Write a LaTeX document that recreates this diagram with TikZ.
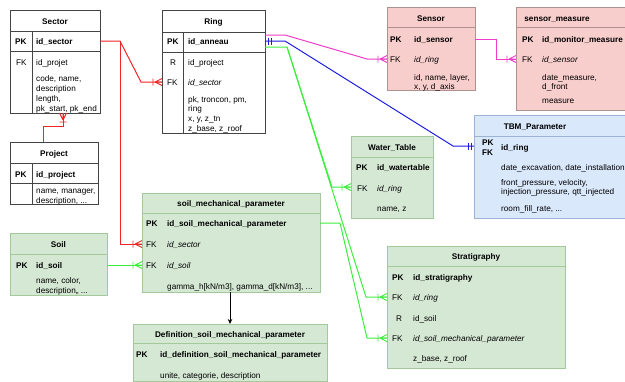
\documentclass[tikz,border=0pt]{standalone}
\usepackage{fontspec}
\setmainfont{Liberation Sans}
\usetikzlibrary{arrows.meta}
\definecolor{cRed}{HTML}{EE2626}
\definecolor{cMag}{HTML}{F03CC8}
\definecolor{cBlue}{HTML}{1C1CE0}
\definecolor{cGreen}{HTML}{3CEE3C}
\definecolor{cWB}{HTML}{444444}
\definecolor{cPF}{HTML}{F8CECC}
\definecolor{cPB}{HTML}{AE9290}
\definecolor{cGF}{HTML}{D5E8D4}
\definecolor{cGB}{HTML}{A3C89A}
\definecolor{cBF}{HTML}{DAE8FC}
\definecolor{cBB}{HTML}{9DB3D6}
\newcounter{tn}
\newcommand\tl[4][]{\stepcounter{tn}\node[txt,#1] (t\arabic{tn}) at (#2,#3+3) {#4};}
\newcommand\ttl[3]{\stepcounter{tn}\node[txt,anchor=base,font=\fs\bfseries] (t\arabic{tn}) at (#1,#2+3) {#3};}
\newcommand\ebox[6]{\node[#6, minimum width={(#4)-(#2)}, minimum height={(#5)-(#3)}] (#1) at ({((#2)+(#4))/2},{((#3)+(#5))/2}) {};}
\newcommand\fs{\fontsize{8.2}{9.5}\selectfont}
\tikzset{
  x=1pt, y=-1pt,
  txt/.style={anchor=base west, inner sep=0pt, font=\fs},
  bx/.style={inner sep=0pt, outer sep=0pt, line width=0.8pt},
  wbox/.style={bx, draw=cWB, fill=white},
  pbox/.style={bx, draw=cPB, fill=cPF},
  gbox/.style={bx, draw=cGB, fill=cGF},
  bbox/.style={bx, draw=cBB, fill=cBF},
  conn/.style={line width=1pt, line join=miter},
  crow/.pic={\draw[line width=0.9pt] (-7,0) -- (0,3.5) (-7,0) -- (0,-3.5) (-7,0) -- (0,0) (-9,-3.5) -- (-9,3.5);},
  dbar/.pic={\draw[line width=0.9pt] (-3,-3.5) -- (-3,3.5) (-6,-3.5) -- (-6,3.5);},
}
\begin{document}
\begin{tikzpicture}
\useasboundingbox (0,0) rectangle (625,381);
\fill[white] (0,0) rectangle (625,381);

% ---------- boxes ----------
\ebox{sector}{10}{10}{100}{113}{wbox}
\ebox{project}{10}{142}{98}{204}{wbox}
\ebox{ring}{162}{10}{265}{133}{wbox}
\ebox{sensor}{387}{7}{475}{90}{pbox}
\ebox{smeas}{516}{7}{640}{110}{pbox}
\ebox{tbm}{474}{115}{640}{218}{bbox}
\ebox{water}{351}{136}{433}{218}{gbox}
\ebox{soil}{10}{233}{107}{295}{gbox}
\ebox{smp}{142}{193}{320}{292}{gbox}
\ebox{def}{133}{324}{327}{381}{gbox}
\ebox{strat}{387}{246}{565}{368}{gbox}

% internal lines (white boxes)
\draw[cWB, line width=0.8pt] (sector.west |- 0,31) -- (sector.east |- 0,31)
  (sector.west |- 0,51) -- (sector.east |- 0,51) (32,31) -- (32,113);
\draw[cWB, line width=0.8pt] (project.west |- 0,163) -- (project.east |- 0,163)
  (project.west |- 0,183) -- (project.east |- 0,183) (32,163) -- (32,204);
\draw[cWB, line width=0.8pt] (ring.west |- 0,32) -- (ring.east |- 0,32)
  (ring.west |- 0,52) -- (ring.east |- 0,52) (183,32) -- (183,133);
% header lines (coloured boxes)
\draw[cPB, line width=0.6pt] (sensor.west |- 0,27) -- (sensor.east |- 0,27);
\draw[cPB, line width=0.6pt] (smeas.west |- 0,27) -- (smeas.east |- 0,27);
\draw[cBB, line width=0.6pt] (tbm.west |- 0,136) -- (tbm.east |- 0,136);
\draw[cGB, line width=0.6pt] (water.west |- 0,157) -- (water.east |- 0,157);
\draw[cGB, line width=0.6pt] (soil.west |- 0,254) -- (soil.east |- 0,254);
\draw[cGB, line width=0.6pt] (smp.west |- 0,213) -- (smp.east |- 0,213);
\draw[cGB, line width=0.6pt] (def.west |- 0,343) -- (def.east |- 0,343);
\draw[cGB, line width=0.6pt] (strat.west |- 0,266) -- (strat.east |- 0,266);

% ---------- texts ----------
% Sector
\ttl{55}{21}{Sector}
\tl[font=\fs\bfseries]{15}{41}{PK}
\tl[font=\fs\bfseries]{36}{41}{id\_sector}
\tl{16}{62}{FK}
\tl{36}{62}{id\_projet}
\tl{36}{78}{code, name,}
\tl{36}{88}{description}
\tl{36}{98}{length,}
\tl{36}{108}{pk\_start, pk\_end}
% Project
\ttl{54}{153}{Project}
\tl[font=\fs\bfseries]{15}{174}{PK}
\tl[font=\fs\bfseries]{36}{174}{id\_project}
\tl{36}{190}{name, manager,}
\tl{36}{200}{description, ...}
% Ring
\ttl{213.5}{21}{Ring}
\tl[font=\fs\bfseries]{167}{41}{PK}
\tl[font=\fs\bfseries]{188}{41}{id\_anneau}
\tl{170}{62}{R}
\tl{188}{62}{id\_project}
\tl{167}{82}{FK}
\tl[font=\fs\itshape]{188}{82}{id\_sector}
\tl{188}{99}{pk, troncon, pm,}
\tl{188}{108}{ring}
\tl{188}{118}{x, y, z\_tn}
\tl{188}{128}{z\_base, z\_roof}
% Sensor
\ttl{431}{18}{Sensor}
\tl[font=\fs\bfseries]{390}{39}{PK}
\tl[font=\fs\bfseries]{414}{39}{id\_sensor}
\tl{390}{59}{FK}
\tl[font=\fs\itshape]{414}{59}{id\_ring}
\tl{414}{77}{id, name, layer,}
\tl{414}{86}{x, y, d\_axis}
% sensor_measure
\ttl{557}{18}{sensor\_measure}
\tl[font=\fs\bfseries]{522}{39}{PK}
\tl[font=\fs\bfseries]{542}{39}{id\_monitor\_measure}
\tl{522}{59}{FK}
\tl[font=\fs\itshape]{542}{59}{id\_sensor}
\tl{542}{77}{date\_measure,}
\tl{542}{86}{d\_front}
\tl{542}{100}{measure}
% TBM
\ttl{535}{126}{TBM\_Parameter}
\tl[font=\fs\bfseries]{482}{142}{PK}
\tl[font=\fs\bfseries]{482}{152}{FK}
\tl[font=\fs\bfseries]{501}{147}{id\_ring}
\tl{501}{167}{date\_excavation, date\_installation}
\tl{501}{182}{front\_pressure, velocity,}
\tl{501}{191.5}{injection\_pressure, qtt\_injected}
\tl{501}{208}{room\_fill\_rate, ...}
% Water_Table
\ttl{392}{147}{Water\_Table}
\tl[font=\fs\bfseries]{356}{167}{PK}
\tl[font=\fs\bfseries]{377}{167}{id\_watertable}
\tl{357}{188}{FK}
\tl[font=\fs\itshape]{377}{188}{id\_ring}
\tl{377}{208}{name, z}
% Soil
\ttl{58.5}{244}{Soil}
\tl[font=\fs\bfseries]{16}{265}{PK}
\tl[font=\fs\bfseries]{36}{265}{id\_soil}
\tl{36}{280}{name, color,}
\tl{36}{290}{description,, ...}
% soil_mechanical_parameter
\ttl{231}{203}{soil\_mechanical\_parameter}
\tl[font=\fs\bfseries]{146}{223}{PK}
\tl[font=\fs\bfseries]{167}{223}{id\_soil\_mechanical\_parameter}
\tl{146}{244}{FK}
\tl[font=\fs\itshape]{167}{244}{id\_sector}
\tl{146}{265}{FK}
\tl[font=\fs\itshape]{167}{265}{id\_soil}
\tl{167}{286}{gamma\_h[kN/m3], gamma\_d[kN/m3], ...}
% Definition
\ttl{230}{334}{Definition\_soil\_mechanical\_parameter}
\tl[font=\fs\bfseries]{136}{354}{PK}
\tl[font=\fs\bfseries]{160}{354}{id\_definition\_soil\_mechanical\_parameter}
\tl{160}{375}{unite, categorie, description}
% Stratigraphy
\ttl{476}{256}{Stratigraphy}
\tl[font=\fs\bfseries]{392}{277}{PK}
\tl[font=\fs\bfseries]{413}{277}{id\_stratigraphy}
\tl{392}{297}{FK}
\tl[font=\fs\itshape]{413}{297}{id\_ring}
\tl{396}{318}{R}
\tl{413}{318}{id\_soil}
\tl{392}{338}{FK}
\tl[font=\fs\itshape]{413}{338}{id\_soil\_mechanical\_parameter}
\tl{413}{358}{z\_base, z\_roof}

% ---------- connectors ----------
\coordinate (rj) at (120,41);
\coordinate (gj) at (287,47);
% red
\draw[conn, cRed] (sector.east |- 0,41) -- (rj) -- (141,82) -- (ring.west |- 0,82);
\pic[cRed] at (ring.west |- 0,82) {crow};
\draw[conn, cRed] (rj) -- (120,244) -- (smp.west |- 0,244);
\pic[cRed] at (smp.west |- 0,244) {crow};
\draw[conn, cRed] (project.north -| 43,0) -- (43,126) -- (63,126) -- (sector.south -| 63,0);
\pic[cRed, rotate=90] at (sector.south -| 63,0) {crow};
% magenta
\draw[conn, cMag] (ring.east |- 0,35) -- (285,35) -- (367,59) -- (sensor.west |- 0,59);
\pic[cMag] at (sensor.west |- 0,59) {crow};
\draw[conn, cMag] (sensor.east |- 0,39) -- (496,39) -- (496,59) -- (smeas.west |- 0,59);
\pic[cMag] at (smeas.west |- 0,59) {crow};
% blue
\draw[conn, cBlue] (ring.east |- 0,41) -- (285,41) -- (453,146) -- (tbm.west |- 0,146);
\pic[cBlue, rotate=180] at (ring.east |- 0,41) {dbar};
\pic[cBlue] at (tbm.west |- 0,146) {dbar};
% green
\draw[conn, cGreen] (ring.east |- 0,47) -- (gj) -- (366,297) -- (strat.west |- 0,297);
\pic[cGreen] at (strat.west |- 0,297) {crow};
\draw[conn, cGreen] (gj) -- (332,187) -- (water.west |- 0,187);
\pic[cGreen] at (water.west |- 0,187) {crow};
\draw[conn, cGreen] (smp.east |- 0,223) -- (340,223) -- (367,338) -- (strat.west |- 0,338);
\pic[cGreen] at (strat.west |- 0,338) {crow};
\draw[conn, cGreen] (soil.east |- 0,265) -- (smp.west |- 0,265);
\pic[cGreen] at (smp.west |- 0,265) {crow};
% black arrow
\draw[line width=0.8pt, black, -{Stealth[length=5pt, width=4.5pt]}] (smp.south -| 230,0) -- (def.north -| 230,0);
\end{tikzpicture}
\end{document}
